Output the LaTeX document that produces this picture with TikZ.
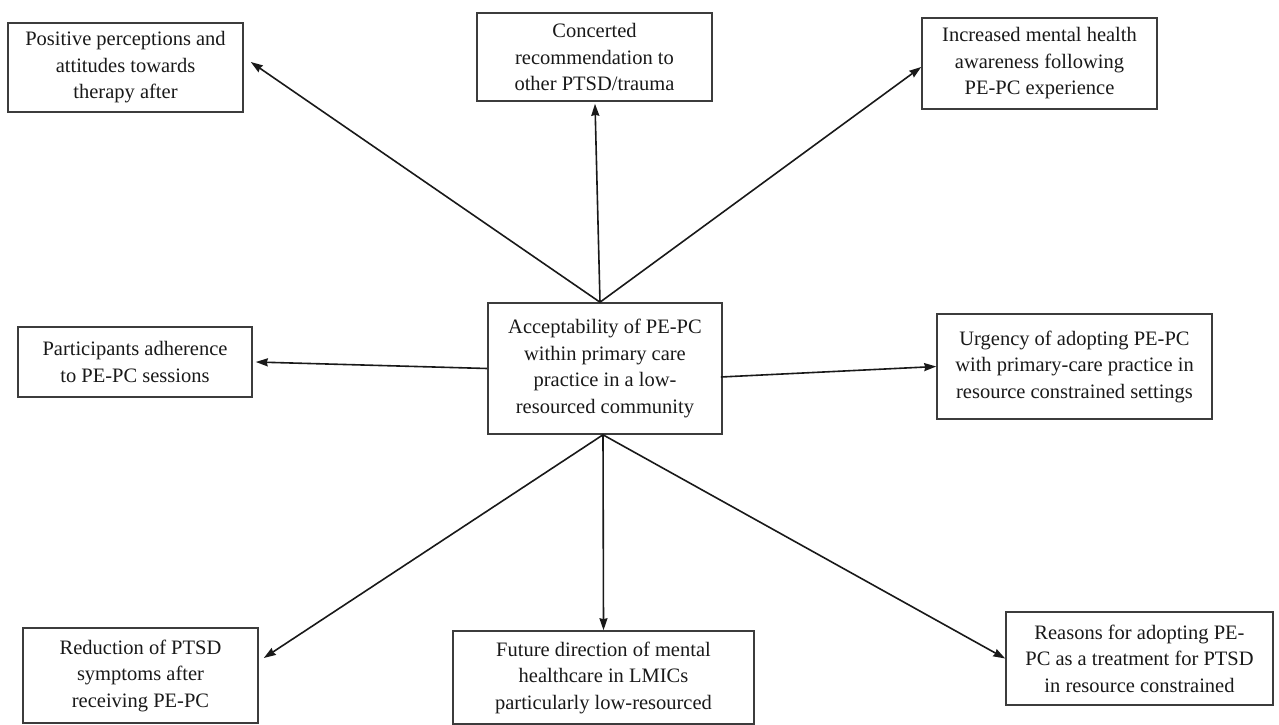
\documentclass[tikz,border=0pt]{standalone}
\usepackage{fontspec}
\setmainfont{Liberation Serif}
\usetikzlibrary{arrows.meta}
\definecolor{ink}{RGB}{25,25,25}
\tikzset{
  theme/.style={draw=ink!85, line width=1.6pt, fill=white, text=ink,
    align=center, inner sep=0pt,
    font=\fontsize{20.5}{26.5}\selectfont},
  link/.style={draw=ink, line width=1.6pt,
    -{Stealth[length=12pt,width=8pt,inset=1pt]}}
}
\begin{document}
\begin{tikzpicture}[x=1pt,y=-1pt]
\useasboundingbox (0,0) rectangle (1279,725);

% central theme
\node[theme, minimum width=234, minimum height=131] (C) at (605,368.5)
  {Acceptability of PE-PC\\within primary care\\practice in a low-\\resourced community};

% surrounding sub-themes
\node[theme, minimum width=235, minimum height=89] (PP) at (125.5,67.5)
  {Positive perceptions and\\attitudes towards\\therapy after};
\node[theme, minimum width=235, minimum height=88] (CR) at (594.5,57)
  {Concerted\\recommendation to\\other PTSD/trauma};
\node[theme, minimum width=235, minimum height=91] (IM) at (1039.5,63.5)
  {Increased mental health\\awareness following\\PE-PC experience};
\node[theme, minimum width=234, minimum height=70] (PA) at (135,362)
  {Participants adherence\\to PE-PC sessions};
\node[theme, minimum width=275, minimum height=105] (UR) at (1074.5,366.5)
  {Urgency of adopting PE-PC\\with primary-care practice in\\resource constrained settings};
\node[theme, minimum width=235, minimum height=95] (RD) at (140.5,675.5)
  {Reduction of PTSD\\symptoms after\\receiving PE-PC};
\node[theme, minimum width=301, minimum height=93] (FD) at (603.5,677.5)
  {Future direction of mental\\healthcare in LMICs\\particularly low-resourced};
\node[theme, minimum width=267, minimum height=93] (RA) at (1139.5,658.5)
  {Reasons for adopting PE-\\PC as a treatment for PTSD\\in resource constrained};

% connectors leaving the top of the central box
\draw[link] ([xshift=-5]C.north) -- ([shift={(7,-5.5)}]PP.east);
\draw[link] ([xshift=-5]C.north) -- ([shift={(0.5,2)}]CR.south);
\draw[link] ([xshift=-5]C.north) -- ([shift={(0,3.5)}]IM.west);

% connectors leaving the sides
\draw[link] (C.west) -- ([xshift=3]PA.east);
\draw[link] ([shift={(-2,8.5)}]C.east) -- (UR.west);

% connectors leaving the bottom
\draw[link] ([xshift=-2]C.south) -- ([shift={(5,-17.5)}]RD.east);
\draw[link] ([xshift=-2]C.south) -- (FD.north);
\draw[link] ([xshift=-2]C.south) -- (RA.west);
\end{tikzpicture}
\end{document}
